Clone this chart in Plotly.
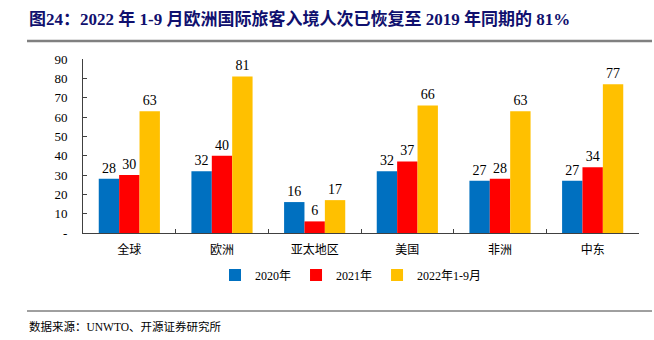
import plotly.graph_objects as go

categories = ["全球", "欧洲", "亚太地区", "美国", "非洲", "中东"]
series_names = ["2020年", "2021年", "2022年1-9月"]
v2020 = [28, 32, 16, 32, 27, 27]
v2021 = [30, 40, 6, 37, 28, 34]
v2022 = [63, 81, 17, 66, 63, 77]
colors = ["#0070C0", "#FF0000", "#FFC000"]
ytick_vals = [0, 10, 20, 30, 40, 50, 60, 70, 80, 90]
ytick_text = ["-", "10", "20", "30", "40", "50", "60", "70", "80", "90"]

SERIF = "Liberation Serif, Times New Roman, Noto Sans CJK SC, serif"

fig = go.Figure()
for name, vals, c in zip(series_names, [v2020, v2021, v2022], colors):
    fig.add_trace(go.Bar(
        x=categories, y=vals, name=name, marker=dict(color=c, line=dict(width=0)),
        text=[str(v) for v in vals], textposition="outside", cliponaxis=False,
        textfont=dict(family=SERIF, size=14, color="#000000"),
    ))

fig.update_layout(
    width=654, height=340,
    margin=dict(l=83, r=15, t=59, b=107),
    paper_bgcolor="white", plot_bgcolor="white",
    barmode="group", bargap=0.34, bargroupgap=0,
    showlegend=True,
    legend=dict(orientation="h", x=(351-83)/556, xanchor="center",
                y=(233-275)/174, yanchor="middle",
                font=dict(family=SERIF, size=12, color="#000000"),
                itemwidth=30, traceorder="normal", tracegroupgap=0,
                bgcolor="rgba(0,0,0,0)"),
    font=dict(family=SERIF, size=13, color="#000000"),
    xaxis=dict(showline=True, linecolor="#404040", linewidth=1,
               ticks="inside", tickson="boundaries", ticklen=4, tickcolor="#404040",
               ticklabelstandoff=6,
               tickfont=dict(family="Noto Sans CJK SC", size=12, color="#000000"),
               showgrid=False),
    yaxis=dict(range=[0, 90], tickvals=ytick_vals, ticktext=ytick_text,
               showline=True, linecolor="#404040", linewidth=1,
               ticks="inside", ticklen=4, tickcolor="#404040",
               ticklabelstandoff=12,
               tickfont=dict(family=SERIF, size=13, color="#000000"),
               showgrid=False, zeroline=False),
    shapes=[
        dict(type="line", xref="paper", yref="paper",
             x0=-56/556, x1=569/556, y0=(233-41)/174, y1=(233-41)/174,
             line=dict(color="#808080", width=2.5)),
        dict(type="line", xref="paper", yref="paper",
             x0=-56/556, x1=569/556, y0=(233-311)/174, y1=(233-311)/174,
             line=dict(color="#404040", width=1)),
    ],
    annotations=[
        dict(text="<b>图24：2022 年 1-9 月欧洲国际旅客入境人次已恢复至 2019 年同期的 81%</b>",
             xref="paper", yref="paper", x=-56/556, y=(233-19)/174,
             xanchor="left", yanchor="middle", showarrow=False,
             font=dict(family=SERIF, size=17, color="#10106E")),
        dict(text="数据来源：UNWTO、开源证券研究所",
             xref="paper", yref="paper", x=-56/556, y=(233-326)/174,
             xanchor="left", yanchor="middle", showarrow=False,
             font=dict(family=SERIF, size=11.5, color="#000000")),
    ],
)

fig.write_html("out.html")
